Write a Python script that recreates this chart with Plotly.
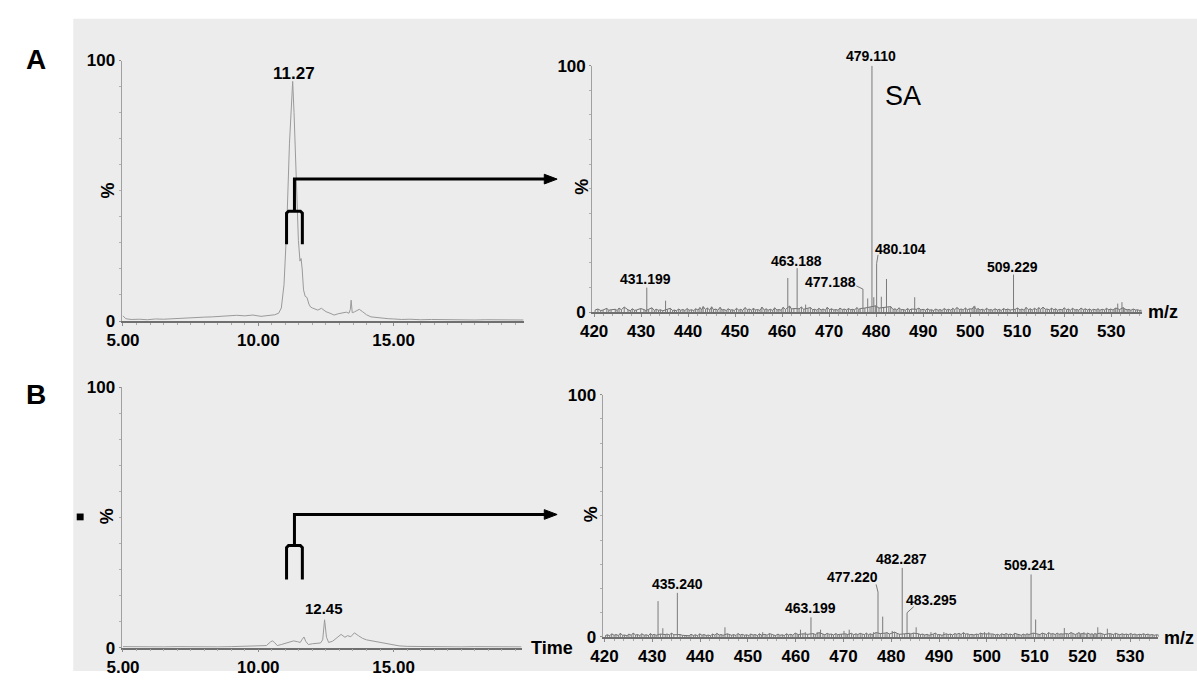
import plotly.graph_objects as go

W, H = 1197, 681

# ---------------- DATA ----------------
# Panel A chromatogram (time in min, relative intensity %)
chromA_t = [5.0, 5.1, 5.3, 5.6, 5.9, 6.2, 6.5, 6.8, 7.1, 7.4, 7.7, 8.0, 8.3, 8.6, 8.9, 9.2, 9.5, 9.8,
            10.1, 10.4, 10.6, 10.75, 10.85, 10.95, 11.05, 11.15, 11.22, 11.27, 11.32, 11.40, 11.48,
            11.54, 11.58, 11.62, 11.67, 11.73, 11.80, 11.87, 11.93, 12.0, 12.1, 12.2, 12.33, 12.5,
            12.65, 12.8, 12.95, 13.1, 13.25, 13.35, 13.40, 13.43, 13.47, 13.55, 13.65, 13.73, 13.85,
            14.0, 14.16, 14.3, 14.45, 14.6, 14.8, 15.0, 15.3, 15.6, 16.0, 16.4, 16.8, 17.2, 17.6,
            18.0, 18.4, 18.8, 19.2, 19.6, 19.8]
chromA_y = [2.0, 0.9, 0.6, 0.7, 0.5, 0.8, 0.7, 0.9, 1.0, 1.2, 1.3, 1.5, 1.6, 1.8, 2.0, 2.2, 2.0, 2.3,
            1.8, 2.0, 2.4, 3.0, 5.0, 14.0, 36.0, 68.0, 86.0, 92.0, 80.0, 52.0, 31.0,
            23.0, 24.0, 20.0, 12.0, 9.5, 9.0, 6.5, 5.4, 5.0, 4.5, 4.2, 4.9, 3.6,
            3.0, 2.3, 2.8, 3.2, 3.4, 3.0, 4.5, 8.0, 3.2, 3.5, 4.0, 4.5, 3.6,
            2.4, 1.6, 1.4, 1.2, 1.0, 0.9, 0.8, 0.6, 0.7, 0.5, 0.6, 0.5, 0.4, 0.5,
            0.4, 0.5, 0.4, 0.5, 0.4, 0.4]

# Panel B chromatogram
chromB_t = [5.0, 5.5, 6.0, 6.5, 7.0, 7.5, 8.0, 8.5, 9.0, 9.5, 10.0, 10.3, 10.45, 10.52, 10.6,
            10.7, 10.85, 11.0, 11.15, 11.3, 11.45, 11.55, 11.62, 11.69, 11.75, 11.85, 12.0, 12.15,
            12.3, 12.38, 12.45, 12.52, 12.6, 12.75, 12.9, 13.06, 13.2, 13.3, 13.42, 13.55, 13.7,
            13.85, 14.0, 14.2, 14.4, 14.6, 14.8, 15.0, 15.2, 15.5, 16.0, 16.5, 17.0, 17.5, 18.0,
            18.5, 19.0, 19.5, 19.73]
chromB_y = [0.4, 0.3, 0.4, 0.3, 0.4, 0.3, 0.4, 0.3, 0.4, 0.5, 0.5, 0.8, 2.2, 2.6, 2.0,
            0.8, 1.2, 1.7, 2.2, 2.6, 2.3, 2.0, 3.2, 4.1, 2.5, 1.2, 1.5, 1.6,
            1.8, 3.0, 10.7, 4.0, 2.0, 2.5, 3.6, 5.1, 4.0, 4.6, 4.2, 5.7, 4.6,
            3.6, 3.0, 2.6, 2.3, 1.8, 1.4, 1.1, 0.7, 0.5, 0.4, 0.3, 0.4, 0.3, 0.4,
            0.3, 0.4, 0.3, 0.3]

# Panel A spectrum: main peaks (m/z, %)
specA_mz = [431.199, 435.2, 461.2, 463.188, 465.0, 477.188, 478.2, 479.110, 479.5, 480.104,
            481.1, 482.2, 488.2, 501.0, 509.229, 531.4, 532.3]
specA_h = [9.9, 4.6, 13.8, 17.8, 3.0, 9.3, 5.5, 100.0, 6.0, 19.7,
           6.2, 13.4, 6.0, 2.5, 15.2, 3.4, 4.0]
# Panel A spectrum: baseline noise
noiseA_mz = [420.2, 420.8, 421.4, 421.9, 422.7, 423.1, 423.6, 424.5, 424.9, 425.3, 425.8, 426.4,
             427.2, 427.7, 428.1, 428.6, 429.0, 429.9, 430.6, 431.0, 431.6, 432.3, 432.8, 433.2,
             433.7, 434.1, 434.6, 435.6, 436.2, 436.7, 437.1, 437.5, 438.0, 438.4, 438.9, 439.3,
             439.8, 440.2, 440.7, 441.2, 441.6, 442.1, 442.5, 442.9, 443.2, 443.7, 444.1, 444.6,
             445.0, 445.4, 445.9, 446.3, 446.8, 447.2, 447.6, 448.1, 448.5, 449.0, 449.4, 449.8,
             450.3, 450.8, 451.2, 451.6, 452.1, 452.6, 453.0, 453.5, 453.9, 454.3, 454.8, 455.3,
             455.7, 456.2, 456.6, 457.0, 457.5, 458.0, 458.4, 458.9, 459.3, 459.8, 460.2, 460.7,
             461.6, 462.0, 462.5, 463.6, 464.1, 464.6, 465.5, 466.0, 466.5, 466.9, 467.4, 467.8,
             468.3, 468.7, 469.2, 469.6, 470.1, 470.5, 471.0, 471.4, 471.9, 472.3, 472.8, 473.2,
             473.7, 474.1, 474.6, 475.0, 475.4, 475.9, 476.3, 476.6, 477.6, 478.7, 479.9, 480.6,
             481.6, 482.7, 483.1, 483.6, 484.0, 484.4, 484.9, 485.3, 485.8, 486.2, 486.7, 487.1,
             487.5, 488.6, 489.1, 489.5, 490.0, 490.5, 490.9, 491.4, 491.8, 492.2, 492.7, 493.2,
             493.6, 494.0, 494.5, 495.0, 495.4, 495.9, 496.3, 496.7, 497.2, 497.7, 498.1, 498.5,
             499.0, 499.4, 499.9, 500.4, 500.8, 501.4, 501.7, 502.1, 502.6, 503.0, 503.5, 504.0,
             504.4, 504.8, 505.3, 505.8, 506.2, 506.6, 507.1, 507.6, 508.0, 508.5, 509.6, 510.1,
             510.6, 511.0, 511.5, 511.9, 512.4, 512.8, 513.2, 513.7, 514.2, 514.6, 515.0, 515.5,
             516.0, 516.4, 516.9, 517.3, 517.8, 518.2, 518.6, 519.1, 519.6, 520.0, 520.5, 520.9,
             521.3, 521.8, 522.3, 522.7, 523.1, 523.6, 524.1, 524.5, 525.0, 525.4, 525.8, 526.3,
             526.8, 527.2, 527.6, 528.1, 528.6, 529.0, 529.5, 529.9, 530.4, 530.8, 531.0, 531.8,
             532.6, 532.9, 533.4, 533.8, 534.2, 534.7, 535.2, 535.6, 536.1, 536.4]
noiseA_h = [0.8, 1.2, 0.6, 0.8, 1.5, 0.7, 0.9, 1.1, 0.6, 1.6, 0.9, 2.0,
            0.9, 0.5, 1.3, 0.7, 0.8, 1.4, 1.0, 0.6, 1.1, 1.7, 0.6, 1.1,
            0.7, 0.9, 0.5, 1.0, 1.5, 0.6, 0.8, 0.5, 1.2, 0.7, 1.0, 0.6,
            1.4, 0.7, 0.9, 0.6, 1.3, 0.8, 1.8, 0.9, 2.2, 1.0, 1.6, 0.8,
            2.1, 0.9, 1.2, 0.7, 1.9, 0.8, 1.0, 0.6, 1.3, 0.8, 0.9, 0.6,
            1.5, 0.7, 1.1, 0.6, 1.8, 0.9, 1.2, 0.7, 1.6, 0.8, 1.0, 0.6,
            2.0, 0.8, 1.3, 0.7, 1.1, 0.6, 1.7, 0.8, 1.0, 0.7, 1.9, 1.0,
            2.4, 1.2, 1.4, 1.3, 2.0, 1.1, 1.4, 1.8, 0.9, 1.1, 0.7, 1.5,
            0.8, 1.2, 0.7, 1.9, 0.9, 1.3, 0.8, 1.0, 0.7, 1.6, 0.9, 1.2,
            0.8, 1.4, 0.9, 1.1, 0.8, 1.8, 1.0, 1.4, 1.6, 2.0, 2.5, 1.6,
            1.8, 1.9, 2.2, 1.0, 1.3, 0.8, 1.7, 0.9, 1.0, 0.7, 1.4, 0.8,
            1.2, 1.1, 1.6, 0.8, 1.1, 0.7, 1.3, 0.8, 0.9, 0.6, 1.2, 0.7,
            1.0, 0.6, 1.4, 0.8, 1.1, 0.7, 1.5, 0.9, 1.8, 1.0, 1.2, 0.8,
            1.6, 0.9, 1.3, 1.2, 2.2, 1.0, 1.4, 0.8, 1.1, 0.7, 1.5, 0.8,
            1.0, 0.7, 1.3, 0.8, 1.1, 0.6, 1.4, 0.9, 1.2, 0.8, 1.1, 1.6,
            0.8, 1.2, 0.7, 1.9, 0.9, 1.3, 0.8, 1.5, 0.9, 1.8, 1.0, 2.0,
            1.1, 1.2, 0.8, 1.6, 0.9, 1.3, 0.7, 1.1, 0.8, 1.7, 0.9, 1.2,
            0.7, 1.5, 0.8, 1.0, 0.7, 1.6, 0.9, 1.3, 0.8, 1.2, 0.7, 1.1,
            0.8, 1.3, 0.7, 1.1, 0.8, 1.5, 0.9, 1.2, 0.8, 1.4, 1.6, 1.0,
            1.8, 1.2, 0.9, 1.0, 0.7, 1.2, 0.8, 0.9, 0.6, 0.8]

# Panel B spectrum: main peaks
specB_mz = [431.2, 432.2, 435.240, 445.2, 453.1, 461.0, 462.0, 463.199, 464.5, 465.2, 470.1,
            471.2, 476.3, 477.220, 478.2, 480.2, 482.287, 483.295, 485.2, 488.3, 491.0, 499.5,
            500.4, 509.241, 510.2, 516.2, 520.3, 523.2, 525.2]
specB_h = [14.8, 3.6, 18.2, 4.0, 2.0, 3.0, 2.0, 8.1, 2.0, 3.0, 2.5,
           3.0, 2.0, 18.5, 8.4, 2.5, 28.5, 10.0, 4.0, 2.0, 2.0, 2.0,
           2.0, 25.8, 7.2, 3.7, 2.0, 4.0, 3.4]
noiseB_mz = [420.2, 420.6, 421.1, 421.5, 422.0, 422.4, 422.9, 423.3, 423.8, 424.2, 424.7, 425.1,
             425.6, 426.0, 426.5, 426.9, 427.4, 427.8, 428.3, 428.7, 429.2, 429.6, 430.0, 430.4,
             430.8, 431.7, 432.7, 433.1, 433.6, 434.0, 434.5, 435.8, 436.3, 436.8, 437.2, 437.7,
             438.1, 438.6, 439.0, 439.5, 439.9, 440.4, 440.8, 441.3, 441.7, 442.2, 442.6, 443.1,
             443.5, 444.0, 444.4, 444.8, 445.7, 446.1, 446.6, 447.0, 447.5, 447.9, 448.4, 448.8,
             449.3, 449.7, 450.2, 450.6, 451.1, 451.5, 452.0, 452.4, 452.8, 453.6, 454.0, 454.5,
             454.9, 455.4, 455.8, 456.3, 456.7, 457.2, 457.6, 458.1, 458.5, 459.0, 459.4, 459.9,
             460.3, 460.6, 461.5, 462.5, 463.7, 464.1, 464.9, 465.7, 466.1, 466.6, 467.0, 467.5,
             467.9, 468.4, 468.8, 469.2, 469.6, 470.5, 470.8, 471.7, 472.1, 472.6, 473.0, 473.5,
             473.9, 474.4, 474.8, 475.2, 475.6, 476.0, 476.8, 477.7, 478.7, 479.1, 479.6, 480.7,
             481.2, 481.7, 482.8, 483.8, 484.1, 484.6, 485.7, 486.1, 486.6, 487.0, 487.5, 487.9,
             488.8, 489.2, 489.7, 490.1, 490.6, 491.5, 491.9, 492.4, 492.8, 493.3, 493.7, 494.2,
             494.6, 495.1, 495.5, 496.0, 496.4, 496.9, 497.3, 497.8, 498.2, 498.7, 499.0, 499.9,
             500.9, 501.3, 501.8, 502.2, 502.7, 503.1, 503.6, 504.0, 504.5, 504.9, 505.4, 505.8,
             506.3, 506.7, 507.2, 507.6, 508.0, 508.4, 508.8, 509.7, 510.7, 511.1, 511.6, 512.0,
             512.5, 512.9, 513.4, 513.8, 514.3, 514.7, 515.1, 515.5, 515.9, 516.7, 517.1, 517.6,
             518.0, 518.5, 518.9, 519.3, 519.6, 519.9, 520.8, 521.1, 521.6, 522.0, 522.3, 522.6,
             522.9, 523.7, 524.1, 524.6, 525.7, 526.0, 526.5, 526.9, 527.4, 527.8, 528.3, 528.7,
             529.2, 529.6, 530.1, 530.5, 531.0, 531.4, 531.9, 532.3, 532.8, 533.2, 533.7, 534.1,
             534.6, 535.0, 535.5, 535.9, 536.3]
noiseB_h = [0.6, 0.9, 0.5, 1.3, 0.7, 1.0, 0.6, 1.5, 0.7, 0.8, 0.5, 1.2,
            0.7, 1.6, 0.8, 1.0, 0.6, 1.3, 0.7, 0.9, 0.6, 1.4, 0.8, 1.1,
            0.7, 1.2, 1.0, 1.2, 0.8, 1.6, 0.9, 1.0, 0.7, 0.6, 0.8, 0.5,
            1.1, 0.6, 0.9, 0.5, 1.3, 0.7, 1.0, 0.6, 0.8, 0.5, 1.2, 0.7,
            1.5, 0.8, 1.0, 0.7, 1.3, 1.0, 0.7, 1.0, 0.6, 1.4, 0.8, 1.1,
            0.7, 0.9, 0.6, 1.2, 0.8, 1.0, 0.6, 1.3, 0.8, 1.1, 0.7, 1.4,
            1.0, 0.8, 0.6, 1.2, 0.7, 0.9, 0.6, 1.3, 0.8, 1.1, 0.7, 1.6,
            1.2, 1.0, 1.3, 1.1, 1.4, 1.0, 1.8, 1.2, 0.9, 1.5, 1.1, 1.2,
            0.8, 1.4, 0.9, 1.1, 1.2, 1.3, 1.0, 1.5, 0.9, 1.3, 1.0, 1.5,
            1.2, 1.0, 1.6, 0.9, 1.3, 1.0, 1.8, 1.4, 1.6, 1.8, 1.2, 2.0,
            1.5, 1.1, 1.3, 1.5, 1.2, 1.6, 1.3, 1.0, 1.2, 0.8, 1.1, 0.7,
            1.2, 1.6, 0.9, 1.0, 0.7, 1.3, 1.0, 1.2, 0.8, 1.4, 1.1, 1.5,
            1.0, 1.8, 1.2, 1.3, 0.9, 1.1, 0.8, 1.2, 1.0, 1.6, 1.3, 1.2,
            1.0, 1.2, 0.8, 1.1, 0.7, 1.3, 0.9, 1.4, 1.0, 1.2, 0.8, 1.5,
            1.2, 1.0, 0.7, 1.2, 0.8, 1.3, 1.0, 1.6, 1.2, 1.0, 1.6, 1.2,
            1.0, 1.8, 1.2, 1.4, 1.0, 1.6, 1.1, 1.3, 1.2, 1.4, 1.2, 1.8,
            1.3, 1.0, 1.4, 1.8, 1.2, 1.4, 1.2, 1.6, 1.1, 1.3, 1.0, 1.4,
            1.2, 1.6, 1.3, 1.0, 1.4, 1.2, 1.0, 1.5, 1.1, 0.9, 1.3, 1.0,
            1.2, 0.9, 1.4, 1.0, 1.2, 0.8, 1.1, 1.0, 1.3, 0.9, 1.2, 0.8,
            1.0, 0.7, 0.9, 0.8, 0.7]

# Peak labels
chromA_label = (11.27, "11.27")
chromB_label = (12.45, "12.45")
specA_labels = ["431.199", "463.188", "477.188", "479.110", "480.104", "509.229"]
specB_labels = ["435.240", "463.199", "477.220", "482.287", "483.295", "509.241"]

# ---------------- HELPERS ----------------
def fx(p):
    return p / W

def fy(p):
    return 1 - p / H

def sticks(mz, h):
    xs, ys = [], []
    for m, v in zip(mz, h):
        xs += [m, m, None]
        ys += [0, v, None]
    return xs, ys

GRAY = "#7a7a7a"
AX = "#8c8c8c"
FONT = "Liberation Sans"
NARROW = "Liberation Sans Narrow, Liberation Sans"

fig = go.Figure()

# chromatograms
fig.add_trace(go.Scatter(x=chromA_t, y=chromA_y, mode="lines", line=dict(color="#9a9a9a", width=1),
                         xaxis="x", yaxis="y", hoverinfo="skip"))
fig.add_trace(go.Scatter(x=chromB_t, y=chromB_y, mode="lines", line=dict(color="#9a9a9a", width=1),
                         xaxis="x3", yaxis="y3", hoverinfo="skip"))

# spectra: jagged noise baseline + sticks
for mz, h, ax in [(noiseA_mz, noiseA_h, "2"), (noiseB_mz, noiseB_h, "4")]:
    fig.add_trace(go.Scatter(x=mz, y=h, mode="lines", line=dict(color="#6e6e6e", width=1),
                             xaxis="x" + ax, yaxis="y" + ax, hoverinfo="skip"))
for mz, h, ax in [(noiseA_mz, noiseA_h, "2"), (specA_mz, specA_h, "2"),
                  (noiseB_mz, noiseB_h, "4"), (specB_mz, specB_h, "4")]:
    xs, ys = sticks(mz, h)
    fig.add_trace(go.Scatter(x=xs, y=ys, mode="lines", line=dict(color=GRAY, width=1),
                             xaxis="x" + ax, yaxis="y" + ax, hoverinfo="skip"))

def xax(dom, rng, tickvals, ticktext, font, minor_dtick, anchor):
    return dict(domain=[fx(dom[0]), fx(dom[1])], range=rng, anchor=anchor,
                showline=True, linecolor="#6f6f6f", linewidth=1.5, showgrid=False, zeroline=False,
                tickvals=tickvals, ticktext=ticktext, ticks="outside", ticklen=3, tickcolor=AX,
                tickfont=font, minor=dict(dtick=minor_dtick, ticks="outside", ticklen=2, tickcolor="#aaaaaa"))

def yax(dom, font, anchor):
    return dict(domain=[fy(dom[0]), fy(dom[1])], range=[0, 100], anchor=anchor,
                showline=True, linecolor="#a0a0a0", linewidth=1, showgrid=False, zeroline=False,
                tickvals=[0, 100], ticktext=["0", "100"], ticks="outside", ticklen=2, tickcolor=AX,
                tickfont=font, minor=dict(dtick=10, ticks="outside", ticklen=2, tickcolor="#b0b0b0"))

chrom_font = dict(family=FONT, size=17, color="black", weight="bold")
spec_font = dict(family=NARROW, size=17, color="black", weight="bold")
t_vals = [5, 10, 15]
t_text = ["5.00", "10.00", "15.00"]
mz_vals = [420, 430, 440, 450, 460, 470, 480, 490, 500, 510, 520, 530]
mz_text = [str(v) for v in mz_vals]

fig.update_layout(
    width=W, height=H, margin=dict(l=0, r=0, t=0, b=0),
    paper_bgcolor="white", plot_bgcolor="rgba(0,0,0,0)", showlegend=False,
    xaxis=xax((108, 515), [4.95, 19.8], t_vals, t_text, chrom_font, 0.5, "y"),
    yaxis=yax((321, 53), chrom_font, "x"),
    xaxis2=xax((584.5, 1141), [419.58, 536.5], mz_vals, mz_text, spec_font, 2, "y2"),
    yaxis2=yax((311.7, 58.3), spec_font, "x2"),
    xaxis3=xax((108, 513), [4.95, 19.73], t_vals, t_text, chrom_font, 0.5, "y3"),
    yaxis3=yax((657, 389), chrom_font, "x3"),
    xaxis4=xax((595, 1158), [419.59, 535.9], mz_vals, mz_text, spec_font, 2, "y4"),
    yaxis4=yax((646, 396.7), spec_font, "x4"),
)

shapes = []
# gray panel background
shapes.append(dict(type="rect", xref="paper", yref="paper", x0=fx(59), x1=fx(1197), y0=fy(681), y1=fy(10),
                   fillcolor="#ececec", line=dict(width=0), layer="below"))
# small square marker
shapes.append(dict(type="rect", xref="paper", yref="paper", x0=fx(62.5), x1=fx(69.5), y0=fy(526), y1=fy(519),
                   fillcolor="black", line=dict(width=0)))

def ppath(points, close=False):
    s = "M " + " L ".join(f"{fx(a):.5f},{fy(b):.5f}" for a, b in points)
    return s + (" Z" if close else "")

for fork_top, fork_bot, arrow_y in [(208, 242, 175), (552, 587, 520)]:
    shapes.append(dict(type="path", xref="paper", yref="paper",
                       path=ppath([(275, fork_bot), (275, fork_top + 2), (277, fork_top), (289, fork_top),
                                   (291, fork_top + 2), (291, fork_bot)]),
                       line=dict(color="black", width=3)))
    shapes.append(dict(type="path", xref="paper", yref="paper",
                       path=ppath([(283, fork_top), (283, arrow_y), (538, arrow_y)]),
                       line=dict(color="black", width=3)))
    shapes.append(dict(type="path", xref="paper", yref="paper",
                       path=ppath([(536, arrow_y - 5), (549, arrow_y), (536, arrow_y + 5)], close=True),
                       fillcolor="black", line=dict(color="black", width=1)))

# leader lines for offset labels (data coordinates)
def leader(ax, x0, y0, x1, y1):
    shapes.append(dict(type="line", xref="x" + ax, yref="y" + ax, x0=x0, y0=y0, x1=x1, y1=y1,
                       line=dict(color=GRAY, width=1)))

iA = specA_mz.index(477.188)
leader("2", specA_mz[iA], specA_h[iA], specA_mz[iA] - 1.4, specA_h[iA] + 1.3)
iA = specA_mz.index(480.104)
leader("2", specA_mz[iA], specA_h[iA], specA_mz[iA] + 0.3, specA_h[iA] + 3.5)
iB = specB_mz.index(477.220)
leader("4", specB_mz[iB], specB_h[iB], specB_mz[iB] - 0.4, specB_h[iB] + 3.2)
iB = specB_mz.index(483.295)
leader("4", specB_mz[iB], specB_h[iB], specB_mz[iB] + 1.4, specB_h[iB] + 2.5)

fig.update_layout(shapes=shapes)

ann = []
lab_font = dict(family=FONT, size=14, color="black", weight="bold")

def A(x, y, text, font, xref="paper", yref="paper", xanchor="center", yanchor="middle", angle=0, yshift=0):
    ann.append(dict(x=x, y=y, text=text, font=font, xref=xref, yref=yref, xanchor=xanchor,
                    yanchor=yanchor, showarrow=False, textangle=angle, yshift=yshift))

big = dict(family=FONT, size=28, color="black", weight="bold")
A(fx(21), fy(52), "A", big)
A(fx(21), fy(397), "B", big)
pct = dict(family=FONT, size=18, color="black", weight="bold")
A(fx(94), fy(187), "%", pct, angle=-90)
A(fx(574), fy(183), "%", pct, angle=-90)
A(fx(94), fy(522), "%", pct, angle=-90)
A(fx(584), fy(520), "%", pct, angle=-90)
A(fx(521), fy(657), "Time", dict(family=FONT, size=18, color="black", weight="bold"), xanchor="left")
mzf = dict(family=NARROW, size=18, color="black", weight="bold")
A(fx(1145), fy(312), "m/z", mzf, xanchor="left")
A(fx(1162), fy(647), "m/z", mzf, xanchor="left")

# chromatogram peak labels
A(chromA_label[0] + 0.03, 95, chromA_label[1], dict(family=FONT, size=17, color="black", weight="bold"),
  xref="x", yref="y")
A(chromB_label[0] - 0.02, 15, chromB_label[1], dict(family=FONT, size=15, color="black", weight="bold"),
  xref="x3", yref="y3")

# spectrum A labels
posA = {"431.199": (431.0, 13.3), "463.188": (463.0, 20.8), "477.188": (470.3, 12.1),
        "480.104": (485.2, 25.7), "509.229": (509.0, 18.4)}
for t in specA_labels:
    if t in posA:
        x, y = posA[t]
        A(x, y, t, lab_font, xref="x2", yref="y2")
# base peak label sits just above the top of the axis
A(478.9, 100, "479.110", lab_font, xref="x2", yref="y2", yanchor="bottom", yshift=0)
A(485.65, 87.5, "SA", dict(family=FONT, size=27, color="black"), xref="x2", yref="y2")

posB = {"435.240": (435.2, 21.8), "463.199": (463.1, 11.8), "477.220": (471.9, 24.7),
        "482.287": (482.1, 32.1), "483.295": (488.4, 15.4), "509.241": (509.0, 29.7)}
for t in specB_labels:
    x, y = posB[t]
    A(x, y, t, lab_font, xref="x4", yref="y4")

fig.update_layout(annotations=ann)
fig.write_html("out.html")
